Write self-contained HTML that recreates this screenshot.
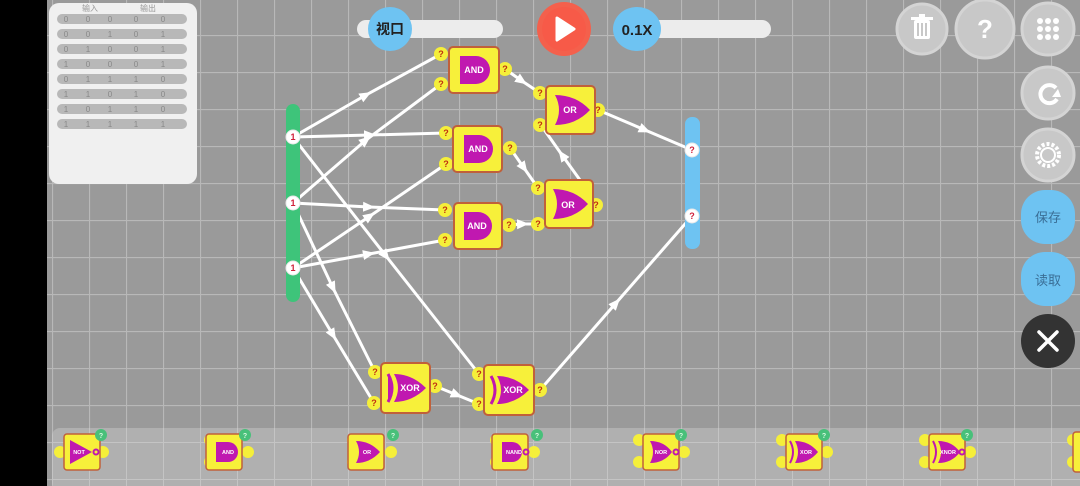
<!DOCTYPE html>
<html><head><meta charset="utf-8"><style>
html,body{margin:0;padding:0;width:1080px;height:486px;overflow:hidden;background:#000}
svg{display:block}
text{font-family:"Liberation Sans","Noto Sans CJK SC",sans-serif}
</style></head><body>
<svg width="1080" height="486" viewBox="0 0 1080 486" xmlns="http://www.w3.org/2000/svg">
<defs>
<pattern id="grid" x="15" y="35" width="37" height="37" patternUnits="userSpaceOnUse">
<rect width="37" height="37" fill="#9a9a9a"/>
<path d="M0,0.5H37M0.5,0V37" stroke="#b8b8b8" stroke-width="1.2" fill="none"/>
</pattern>
<pattern id="grid2" x="15" y="35" width="37" height="37" patternUnits="userSpaceOnUse">
<rect width="37" height="37" fill="#b0b0b0"/>
<path d="M0,0.5H37M0.5,0V37" stroke="#c4c4c4" stroke-width="1" fill="none"/>
</pattern>
<marker id="ar" markerWidth="12" markerHeight="12" refX="6" refY="6" orient="auto" markerUnits="userSpaceOnUse">
<path d="M0,1 L12,6 L0,11 Z" fill="#fff"/>
</marker>
</defs>
<rect x="47" y="0" width="1033" height="486" fill="url(#grid)"/>
<!-- truth table -->
<rect x="49" y="3" width="148" height="181" rx="10" fill="#f0f0f0"/>
<g font-size="8" fill="#999">
<text x="82" y="11">输入</text><text x="140" y="11">输出</text>
</g>
<g fill="#b8b8b8">
<rect x="57" y="14" width="130" height="10" rx="5"/><rect x="57" y="29" width="130" height="10" rx="5"/>
<rect x="57" y="44" width="130" height="10" rx="5"/><rect x="57" y="59" width="130" height="10" rx="5"/>
<rect x="57" y="74" width="130" height="10" rx="5"/><rect x="57" y="89" width="130" height="10" rx="5"/>
<rect x="57" y="104" width="130" height="10" rx="5"/><rect x="57" y="119" width="130" height="10" rx="5"/>
</g>
<g font-size="8" fill="#888" text-anchor="middle">
<text x="66" y="22">0</text><text x="88" y="22">0</text><text x="110" y="22">0</text><text x="136" y="22">0</text><text x="163" y="22">0</text>
<text x="66" y="37">0</text><text x="88" y="37">0</text><text x="110" y="37">1</text><text x="136" y="37">0</text><text x="163" y="37">1</text>
<text x="66" y="52">0</text><text x="88" y="52">1</text><text x="110" y="52">0</text><text x="136" y="52">0</text><text x="163" y="52">1</text>
<text x="66" y="67">1</text><text x="88" y="67">0</text><text x="110" y="67">0</text><text x="136" y="67">0</text><text x="163" y="67">1</text>
<text x="66" y="82">0</text><text x="88" y="82">1</text><text x="110" y="82">1</text><text x="136" y="82">1</text><text x="163" y="82">0</text>
<text x="66" y="97">1</text><text x="88" y="97">1</text><text x="110" y="97">0</text><text x="136" y="97">1</text><text x="163" y="97">0</text>
<text x="66" y="112">1</text><text x="88" y="112">0</text><text x="110" y="112">1</text><text x="136" y="112">1</text><text x="163" y="112">0</text>
<text x="66" y="127">1</text><text x="88" y="127">1</text><text x="110" y="127">1</text><text x="136" y="127">1</text><text x="163" y="127">1</text>
</g>
<!-- top bar -->
<rect x="357" y="20" width="146" height="18" rx="9" fill="#ececec"/>
<ellipse cx="390" cy="29" rx="22" ry="22" fill="#6ec3f2"/>
<text x="390" y="34" font-size="14" font-weight="bold" fill="#222" text-anchor="middle">视口</text>
<circle cx="564" cy="29" r="27" fill="#f4604c"/><circle cx="564" cy="29" r="22" fill="#f75a48"/>
<path d="M557,18 L574,29 L557,40 Z" fill="#fff" stroke="#fff" stroke-width="3" stroke-linejoin="round"/>
<rect x="615" y="20" width="156" height="18" rx="9" fill="#ececec"/>
<ellipse cx="637" cy="29" rx="24" ry="22" fill="#6ec3f2"/>
<text x="637" y="35" font-size="15" font-weight="bold" fill="#222" text-anchor="middle">0.1X</text>
<!-- right buttons -->
<g fill="#c8c8c8" stroke="#d4d4d4" stroke-width="3">
<circle cx="922" cy="29" r="25"/><circle cx="985" cy="29" r="29"/><circle cx="1048" cy="29" r="26"/>
<circle cx="1048" cy="93" r="26"/><circle cx="1048" cy="155" r="26"/>
</g>
<g fill="#fff">
<rect x="914" y="20" width="16" height="19" rx="2"/><rect x="911" y="17" width="22" height="3"/><rect x="919" y="14" width="6" height="3"/>
<rect x="917" y="23" width="2" height="13" fill="#c8c8c8"/><rect x="921" y="23" width="2" height="13" fill="#c8c8c8"/><rect x="925" y="23" width="2" height="13" fill="#c8c8c8"/>
<circle cx="1040" cy="21" r="3"/><circle cx="1048" cy="21" r="3"/><circle cx="1056" cy="21" r="3"/>
<circle cx="1040" cy="29" r="3"/><circle cx="1048" cy="29" r="3"/><circle cx="1056" cy="29" r="3"/>
<circle cx="1040" cy="37" r="3"/><circle cx="1048" cy="37" r="3"/><circle cx="1056" cy="37" r="3"/>
</g>
<text x="985" y="38" font-size="26" font-weight="bold" fill="#fff" text-anchor="middle">?</text>
<path d="M1056,88 A9,9 0 1 0 1057,99" stroke="#fff" stroke-width="4" fill="none"/>
<path d="M1052,97 L1061,97 L1058,89 Z" fill="#fff"/>
<circle cx="1048" cy="155" r="11" fill="none" stroke="#fff" stroke-width="4" stroke-dasharray="3 2"/>
<circle cx="1048" cy="155" r="7" fill="none" stroke="#fff" stroke-width="2"/>
<rect x="1021" y="190" width="54" height="54" rx="24" fill="#6ec3f2"/>
<text x="1048" y="222" font-size="13" fill="#3a6e96" text-anchor="middle">保存</text>
<rect x="1021" y="252" width="54" height="54" rx="24" fill="#6ec3f2"/>
<text x="1048" y="285" font-size="13" fill="#3a6e96" text-anchor="middle">读取</text>
<circle cx="1048" cy="341" r="27" fill="#333"/>
<path d="M1039,332 L1057,350 M1057,332 L1039,350" stroke="#fff" stroke-width="3.5" stroke-linecap="round"/>
<!-- wires -->
<g stroke="#fff" stroke-width="3" fill="none" marker-mid="url(#ar)">
<polyline points="293,137 366,95 441,54"/>
<polyline points="293,137 370,135 446,133"/>
<polyline points="293,137 386,256 479,374"/>
<polyline points="293,203 366,140 441,84"/>
<polyline points="293,203 369,207 445,210"/>
<polyline points="293,203 333,288 375,372"/>
<polyline points="293,268 370,216 446,164"/>
<polyline points="293,268 369,254 445,240"/>
<polyline points="293,268 333,335 374,403"/>
<polyline points="505,69 522,81 540,93"/>
<polyline points="510,148 524,168 538,188"/>
<polyline points="509,225 523,224 538,224"/>
<polyline points="580,180 562,155 543,128"/>
<polyline points="598,110 645,130 692,150"/>
<polyline points="435,386 457,395 479,404"/>
<polyline points="540,390 616,303 692,216"/>
</g>
<!-- IO bars -->
<rect x="286" y="104" width="14" height="198" rx="7" fill="#3ec47a"/>
<rect x="685" y="117" width="15" height="132" rx="7" fill="#6ec3f2"/>
<g fill="#fff" stroke="#e8e8e8"><circle cx="293" cy="137" r="7"/><circle cx="293" cy="203" r="7"/><circle cx="293" cy="268" r="7"/>
<circle cx="692" cy="150" r="7"/><circle cx="692" cy="216" r="7"/></g>
<g font-size="9" font-weight="bold" fill="#d0203a" text-anchor="middle">
<text x="293" y="140">1</text><text x="293" y="206">1</text><text x="293" y="271">1</text>
<text x="692" y="153">?</text><text x="692" y="219">?</text></g>
<!-- pins -->
<g fill="#f5ef3a">
<circle cx="441" cy="54" r="7"/><circle cx="441" cy="84" r="7"/><circle cx="505" cy="69" r="7"/>
<circle cx="446" cy="133" r="7"/><circle cx="446" cy="164" r="7"/><circle cx="510" cy="148" r="7"/>
<circle cx="445" cy="210" r="7"/><circle cx="445" cy="240" r="7"/><circle cx="509" cy="225" r="7"/>
<circle cx="540" cy="93" r="7"/><circle cx="540" cy="125" r="7"/><circle cx="598" cy="110" r="7"/>
<circle cx="538" cy="188" r="7"/><circle cx="538" cy="224" r="7"/><circle cx="596" cy="205" r="7"/>
<circle cx="375" cy="372" r="7"/><circle cx="374" cy="403" r="7"/><circle cx="435" cy="386" r="7"/>
<circle cx="479" cy="374" r="7"/><circle cx="479" cy="404" r="7"/><circle cx="540" cy="390" r="7"/>
</g>
<g font-size="9" font-weight="bold" fill="#c03010" text-anchor="middle">
<text x="441" y="57">?</text><text x="441" y="87">?</text><text x="505" y="72">?</text>
<text x="446" y="136">?</text><text x="446" y="167">?</text><text x="510" y="151">?</text>
<text x="445" y="213">?</text><text x="445" y="243">?</text><text x="509" y="228">?</text>
<text x="540" y="96">?</text><text x="540" y="128">?</text><text x="598" y="113">?</text>
<text x="538" y="191">?</text><text x="538" y="227">?</text><text x="596" y="208">?</text>
<text x="375" y="375">?</text><text x="374" y="406">?</text><text x="435" y="389">?</text>
<text x="479" y="377">?</text><text x="479" y="407">?</text><text x="540" y="393">?</text>
</g>
<!-- gates -->
<g stroke="#c0603a" stroke-width="2" fill="#f7f03a">
<rect x="449" y="47" width="50" height="46" rx="4"/>
<rect x="453" y="126" width="49" height="46" rx="4"/>
<rect x="454" y="203" width="48" height="46" rx="4"/>
<rect x="546" y="86" width="49" height="48" rx="4"/>
<rect x="545" y="180" width="48" height="48" rx="4"/>
<rect x="381" y="363" width="49" height="50" rx="4"/>
<rect x="484" y="365" width="50" height="50" rx="4"/>
</g>
<g fill="#c018b0">
<path d="M460,56 H476 A14,14 0 0 1 476,84 H460 Z"/>
<path d="M464,135 H479 A14,14 0 0 1 479,163 H464 Z"/>
<path d="M464,212 H478 A14,14 0 0 1 478,240 H464 Z"/>
<path d="M555,95 Q576,95 590,110 Q576,125 555,125 Q563,110 555,95 Z"/>
<path d="M553,189 Q574,189 588,204 Q574,219 553,219 Q561,204 553,189 Z"/>
<path d="M394,374 Q412,374 426,388 Q412,402 394,402 Q402,388 394,374 Z M388,374 Q396,388 388,402" />
<path d="M497,376 Q515,376 529,390 Q515,404 497,404 Q505,390 497,376 Z"/>
</g>
<g fill="none" stroke="#c018b0" stroke-width="3">
<path d="M388,374 Q396,388 388,402"/><path d="M491,376 Q499,390 491,404"/>
</g>
<g font-size="9" font-weight="bold" fill="#fff" text-anchor="middle">
<text x="474" y="73">AND</text><text x="478" y="152">AND</text><text x="477" y="229">AND</text>
<text x="570" y="113">OR</text><text x="568" y="208">OR</text>
<text x="410" y="391">XOR</text><text x="513" y="393">XOR</text>
</g>
<!-- bottom palette -->
<rect x="52" y="428" width="1040" height="62" rx="8" fill="url(#grid2)"/>
<g fill="#f5ef3a">
<circle cx="60" cy="452" r="6"/><circle cx="103" cy="452" r="6"/>
<circle cx="210" cy="440" r="6"/><circle cx="210" cy="462" r="6"/><circle cx="248" cy="452" r="6"/>
<circle cx="353" cy="440" r="6"/><circle cx="353" cy="462" r="6"/><circle cx="391" cy="452" r="6"/>
<circle cx="496" cy="440" r="6"/><circle cx="496" cy="462" r="6"/><circle cx="534" cy="452" r="6"/>
<circle cx="639" cy="440" r="6"/><circle cx="639" cy="462" r="6"/><circle cx="684" cy="452" r="6"/>
<circle cx="782" cy="440" r="6"/><circle cx="782" cy="462" r="6"/><circle cx="827" cy="452" r="6"/>
<circle cx="925" cy="440" r="6"/><circle cx="925" cy="462" r="6"/><circle cx="970" cy="452" r="6"/>
<circle cx="1073" cy="440" r="6"/><circle cx="1073" cy="462" r="6"/>
</g>
<g stroke="#c0603a" stroke-width="1.5" fill="#f7f03a">
<rect x="64" y="434" width="36" height="36" rx="3"/>
<rect x="206" y="434" width="36" height="36" rx="3"/>
<rect x="348" y="434" width="36" height="36" rx="3"/>
<rect x="492" y="434" width="36" height="36" rx="3"/>
<rect x="643" y="434" width="36" height="36" rx="3"/>
<rect x="786" y="434" width="36" height="36" rx="3"/>
<rect x="929" y="434" width="36" height="36" rx="3"/>
<rect x="1073" y="432" width="10" height="40" rx="3"/>
</g>
<g fill="#c018b0">
<path d="M70,440 L92,452 L70,464 Z"/>
<path d="M216,442 H228 A10,10 0 0 1 228,462 H216 Z"/>
<path d="M356,441 Q370,441 380,452 Q370,463 356,463 Q362,452 356,441 Z"/>
<path d="M502,442 H512 A10,10 0 0 1 512,462 H502 Z"/>
<path d="M650,441 Q664,441 672,452 Q664,463 650,463 Q656,452 650,441 Z"/>
<path d="M795,441 Q809,441 818,452 Q809,463 795,463 Q801,452 795,441 Z"/>
<path d="M938,441 Q952,441 960,452 Q952,463 938,463 Q944,452 938,441 Z"/>
</g>
<g fill="none" stroke="#c018b0" stroke-width="2">
<circle cx="96" cy="452" r="2.5"/><circle cx="526" cy="452" r="2.5"/><circle cx="676" cy="452" r="2.5"/><circle cx="962" cy="452" r="2.5"/>
<path d="M790,441 Q796,452 790,463"/><path d="M933,441 Q939,452 933,463"/>
</g>
<g font-size="5.5" font-weight="bold" fill="#fff" text-anchor="middle">
<text x="79" y="454">NOT</text><text x="228" y="454">AND</text><text x="367" y="454">OR</text><text x="514" y="454">NAND</text>
<text x="661" y="454">NOR</text><text x="806" y="454">XOR</text><text x="948" y="454">XNOR</text>
</g>
<g fill="#48c07a"><circle cx="101" cy="435" r="6"/><circle cx="245" cy="435" r="6"/><circle cx="393" cy="435" r="6"/><circle cx="537" cy="435" r="6"/><circle cx="681" cy="435" r="6"/><circle cx="824" cy="435" r="6"/><circle cx="967" cy="435" r="6"/></g>
<g font-size="7" font-weight="bold" fill="#d8f8e0" text-anchor="middle">
<text x="101" y="438">?</text><text x="245" y="438">?</text><text x="393" y="438">?</text><text x="537" y="438">?</text><text x="681" y="438">?</text><text x="824" y="438">?</text><text x="967" y="438">?</text>
</g>
</svg>
</body></html>
